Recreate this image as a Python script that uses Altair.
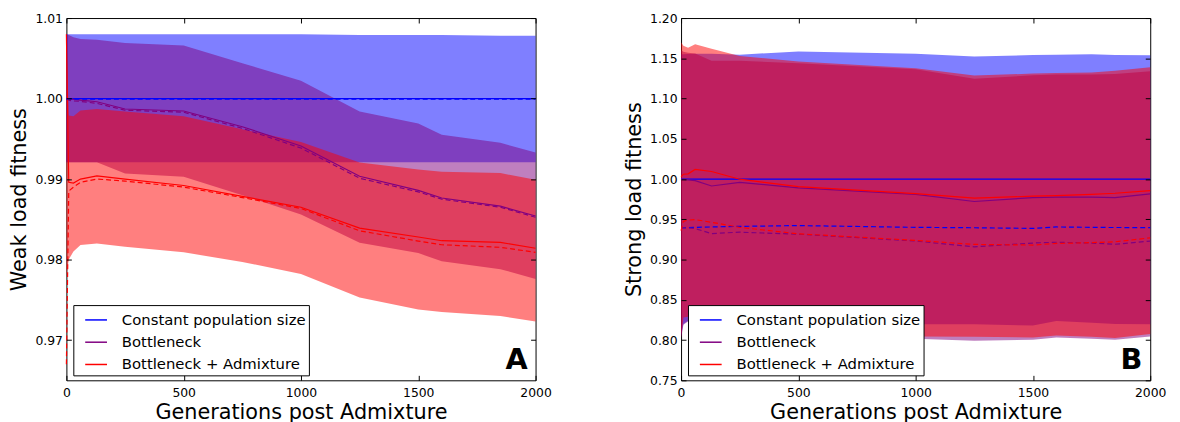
import altair as alt
import pandas as pd

SERIES = ["Constant population size", "Bottleneck", "Bottleneck + Admixture"]
COLORS = ["#0000ff", "#800080", "#ff0000"]

X_TICKS = [0, 500, 1000, 1500, 2000]
WEAK_Y_TICKS = [0.97, 0.98, 0.99, 1.00, 1.01]
STRONG_Y_TICKS = [0.75, 0.80, 0.85, 0.90, 0.95, 1.00, 1.05, 1.10, 1.15, 1.20]

# ---------------- Panel A : weak load ----------------
WEAK_GEN = [0, 10, 30, 60, 130, 250, 500, 750, 1000, 1250, 1500, 1600, 1850, 2000]

weak_const_hi = [1.0080, 1.0080, 1.0080, 1.0080, 1.0080, 1.0080, 1.0080, 1.0080, 1.0080, 1.0079, 1.0079, 1.0079, 1.0078, 1.0078]
weak_const_lo = [0.9921, 0.9921, 0.9921, 0.9921, 0.9921, 0.9921, 0.9921, 0.9921, 0.9921, 0.9921, 0.9921, 0.9921, 0.9921, 0.9921]
weak_const_mean = [1.0000, 1.0000, 1.0000, 1.0000, 1.0000, 1.0000, 1.0000, 1.0000, 1.0000, 1.0000, 1.0000, 1.0000, 1.0000, 1.0000]
weak_const_median = [0.99992, 0.99992, 0.99992, 0.99992, 0.99992, 0.99992, 0.99992, 0.99992, 0.99992, 0.99992, 0.99992, 0.99992, 0.99992, 0.99992]

weak_bott_hi = [1.0080, 1.0079, 1.0076, 1.0074, 1.0073, 1.0069, 1.0066, 1.0044, 1.0022, 0.9984, 0.9969, 0.9955, 0.9945, 0.9933]
weak_bott_lo = [0.9921, 0.9921, 0.9921, 0.9921, 0.9921, 0.9907, 0.9903, 0.9880, 0.9856, 0.9821, 0.9808, 0.9798, 0.9788, 0.9776]
weak_bott_mean = [1.0000, 0.99995, 0.9999, 0.9998, 0.9996, 0.9987, 0.99845, 0.9965, 0.9941, 0.99035, 0.9886, 0.98765, 0.98663, 0.98541]
weak_bott_median = [0.99995, 0.9998, 0.9997, 0.99965, 0.9994, 0.99855, 0.9983, 0.9963, 0.99385, 0.9901, 0.9884, 0.9875, 0.9865, 0.98525]

weak_admx_hi = [1.0080, 0.9979, 0.9978, 0.9985, 0.9987, 0.9984, 0.9978, 0.9962, 0.9946, 0.99205, 0.9912, 0.9909, 0.99074, 0.9899]
weak_admx_lo = [0.9779, 0.9800, 0.9810, 0.9818, 0.9820, 0.9816, 0.9809, 0.9797, 0.9782, 0.9753, 0.9738, 0.9735, 0.9730, 0.9723]
weak_admx_mean = [1.0080, 0.9896, 0.9895, 0.9900, 0.9904, 0.9900, 0.9892, 0.98785, 0.9865, 0.9839, 0.9828, 0.98234, 0.98213, 0.9814]
weak_admx_median = [0.9670, 0.9885, 0.9890, 0.9896, 0.9900, 0.98975, 0.9890, 0.9877, 0.98635, 0.98357, 0.9823, 0.98184, 0.98152, 0.9809]

# ---------------- Panel B : strong load ----------------
STRONG_GEN = [0, 10, 30, 60, 130, 250, 500, 1000, 1250, 1500, 1600, 1750, 1850, 2000]

strong_const_hi = [1.1550, 1.1550, 1.1552, 1.1555, 1.1555, 1.1545, 1.1585, 1.1557, 1.1522, 1.1541, 1.1545, 1.1549, 1.1540, 1.1537]
strong_const_lo = [0.8050, 0.8200, 0.8240, 0.8230, 0.8225, 0.8220, 0.8210, 0.8197, 0.8195, 0.8180, 0.8238, 0.8215, 0.8200, 0.8197]
strong_const_mean = [1.0000, 1.0000, 1.0000, 1.0000, 1.0000, 1.0000, 1.0000, 1.0000, 1.0000, 1.0000, 1.0000, 1.0000, 1.0000, 1.0000]
strong_const_median = [0.9393, 0.9395, 0.9397, 0.9400, 0.9405, 0.9412, 0.9422, 0.9400, 0.9395, 0.9387, 0.9405, 0.9400, 0.9398, 0.9397]

strong_bott_hi = [1.1600, 1.1580, 1.1570, 1.1560, 1.1470, 1.1470, 1.1440, 1.1365, 1.1245, 1.1290, 1.1300, 1.1300, 1.1305, 1.1340]
strong_bott_lo = [0.8020, 0.8190, 0.8230, 0.8220, 0.8150, 0.8100, 0.8030, 0.8016, 0.7992, 0.8004, 0.8033, 0.8015, 0.8004, 0.8045]
strong_bott_mean = [1.0000, 0.9995, 0.9990, 0.9980, 0.9914, 0.9959, 0.9890, 0.9810, 0.9721, 0.9770, 0.9776, 0.9776, 0.9770, 0.9816]
strong_bott_median = [0.9393, 0.9393, 0.9393, 0.9385, 0.9323, 0.9340, 0.9315, 0.9230, 0.9158, 0.9205, 0.9215, 0.9205, 0.9190, 0.9229]

strong_admx_hi = [1.1700, 1.1655, 1.1630, 1.1675, 1.1620, 1.1530, 1.1459, 1.1377, 1.1285, 1.1310, 1.1318, 1.1324, 1.1345, 1.1390]
strong_admx_lo = [0.8030, 0.8280, 0.8290, 0.8260, 0.8220, 0.8150, 0.8060, 0.8045, 0.8040, 0.8033, 0.8057, 0.8040, 0.8025, 0.8074]
strong_admx_mean = [1.0030, 1.0060, 1.0065, 1.0119, 1.0094, 0.9998, 0.9905, 0.9820, 0.9762, 0.9788, 0.9795, 0.9810, 0.9824, 0.9857]
strong_admx_median = [0.9360, 0.9475, 0.9490, 0.9496, 0.9463, 0.9400, 0.9320, 0.9238, 0.9188, 0.9180, 0.9200, 0.9210, 0.9220, 0.9270]


def long_frame(gens, bands):
    rows = []
    for name, (hi, lo, mean, median) in zip(SERIES, bands):
        for g, h, l, m, d in zip(gens, hi, lo, mean, median):
            rows.append({"series": name, "gen": g, "hi": h, "lo": l, "mean": m, "median": d})
    return pd.DataFrame(rows)


weak_df = long_frame(WEAK_GEN, [
    (weak_const_hi, weak_const_lo, weak_const_mean, weak_const_median),
    (weak_bott_hi, weak_bott_lo, weak_bott_mean, weak_bott_median),
    (weak_admx_hi, weak_admx_lo, weak_admx_mean, weak_admx_median),
])
strong_df = long_frame(STRONG_GEN, [
    (strong_const_hi, strong_const_lo, strong_const_mean, strong_const_median),
    (strong_bott_hi, strong_bott_lo, strong_bott_mean, strong_bott_median),
    (strong_admx_hi, strong_admx_lo, strong_admx_mean, strong_admx_median),
])

W, H = 474, 366
FONT = "DejaVu Sans"


def panel(df, y_title, y_domain, y_ticks, letter):
    xs = alt.Scale(domain=[0, 2000], nice=False, zero=False)
    ys = alt.Scale(domain=y_domain, nice=False, zero=False)
    base = alt.Chart(df)

    common = dict(labelFont=FONT, titleFont=FONT, labelFontSize=12.5, titleFontSize=21,
                  titleFontWeight="normal", labelColor="black", titleColor="black")
    x_main = alt.Axis(orient="bottom", values=X_TICKS, format="d", ticks=False, tickSize=0,
                      domain=False, labelPadding=6, labelFlush=False, labelOverlap=False,
                      title="Generations post Admixture", titlePadding=3, grid=False, **common)
    y_main = alt.Axis(orient="left", values=y_ticks, format=".2f", ticks=False, tickSize=0,
                      domain=False, labelPadding=4, labelFlush=False, labelOverlap=False,
                      title=y_title, titlePadding=5, grid=False, **common)

    def tick_axis(orient, values):
        return alt.Axis(orient=orient, values=values, labels=False, domain=False, ticks=True,
                        tickSize=5, tickWidth=1, tickColor="black", offset=-5, title=None,
                        grid=False, zindex=1)

    axes = [
        (x_main, y_main),
        (tick_axis("top", X_TICKS), tick_axis("right", y_ticks)),
        (tick_axis("bottom", X_TICKS), tick_axis("left", y_ticks)),
    ]

    layers = []
    for name, color, (xa, ya) in zip(SERIES, COLORS, axes):
        layers.append(
            base.transform_filter(alt.datum.series == name)
            .mark_area(color=color, fillOpacity=0.5, strokeWidth=0)
            .encode(x=alt.X("gen:Q", scale=xs, axis=xa),
                    y=alt.Y("hi:Q", scale=ys, axis=ya),
                    y2=alt.Y2("lo:Q"))
        )

    legend = alt.Legend(orient="none", legendX=7, legendY=290, title=None,
                        fillColor="white", strokeColor="black",
                        padding=3, symbolOffset=8, cornerRadius=0, symbolType="stroke",
                        symbolSize=484, symbolStrokeWidth=1.5, labelFontSize=15,
                        labelFont=FONT, labelColor="black", labelOffset=14, rowPadding=2.5,
                        labelLimit=400)

    layers.append(
        base.mark_line(strokeWidth=1.2)
        .encode(x=alt.X("gen:Q", scale=xs, axis=None),
                y=alt.Y("mean:Q", scale=ys, axis=None),
                color=alt.Color("series:N", scale=alt.Scale(domain=SERIES, range=COLORS),
                                sort=SERIES, legend=legend))
    )
    for name, color in zip(SERIES, COLORS):
        layers.append(
            base.transform_filter(alt.datum.series == name)
            .mark_line(color=color, strokeWidth=1.2, strokeDash=[5, 3])
            .encode(x=alt.X("gen:Q", scale=xs, axis=None),
                    y=alt.Y("median:Q", scale=ys, axis=None))
        )

    layers.append(
        alt.Chart(pd.DataFrame({"label": [letter]}))
        .mark_text(align="right", baseline="alphabetic", fontSize=29, fontWeight="bold",
                   font=FONT, color="black")
        .encode(text="label:N", x=alt.value(W - 8), y=alt.value(H - 11))
    )

    return (alt.layer(*layers)
            .resolve_axis(x="independent", y="independent")
            .properties(width=W, height=H))


left = panel(weak_df, "Weak load fitness", [0.965, 1.01], WEAK_Y_TICKS, "A")
right = panel(strong_df, "Strong load fitness", [0.75, 1.20], STRONG_Y_TICKS, "B")

chart = (
    alt.hconcat(left, right, spacing=147, bounds="flush")
    .resolve_scale(x="independent", y="independent", color="independent")
    .resolve_legend(color="independent")
    .properties(padding={"left": 0, "top": 1, "right": 5, "bottom": 0})
    .configure_view(stroke="black", strokeWidth=1)
    .configure_axis(labelFont=FONT, titleFont=FONT, labelFontSize=12.5,
                    titleFontSize=21, titleFontWeight="normal", labelColor="black",
                    titleColor="black")
)

chart.save("out.html", embed_options={"renderer": "svg", "actions": False})
